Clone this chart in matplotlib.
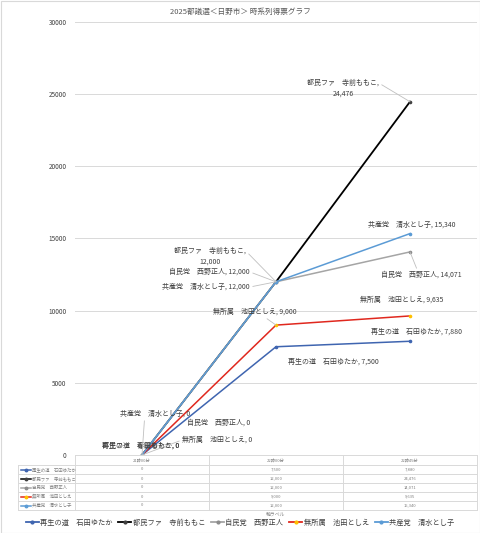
import numpy as np
import matplotlib
import matplotlib.pyplot as plt
from matplotlib.lines import Line2D
from matplotlib.patches import Rectangle

plt.rcParams['font.family'] = ['Noto Sans CJK JP', 'DejaVu Sans']

categories = ['21時00分', '22時00分', '22時45分']
names = ['再生の道　石田ゆたか', '都民ファ　寺前ももこ', '自民党　西野正人', '無所属　池田としえ', '共産党　清水とし子']
votes_saisei = [0, 7500, 7880]
votes_tomin = [0, 12000, 24476]
votes_jimin = [0, 12000, 14071]
votes_mushozoku = [0, 9000, 9635]
votes_kyosan = [0, 12000, 15340]
series = [votes_saisei, votes_tomin, votes_jimin, votes_mushozoku, votes_kyosan]

colors = ['#3F65B0', '#000000', '#A5A5A5', '#E0281E', '#5B9BD5']
marker_colors = ['#3F65B0', '#404040', '#8C8C8C', '#FFC000', '#5B9BD5']

W, H = 480, 533
fig = plt.figure(figsize=(W / 100, H / 100), dpi=100)

# plot area in pixels
L, R, T, B = 75, 477, 22, 455
ax = fig.add_axes([L / W, 1 - B / H, (R - L) / W, (B - T) / H])
ax.set_xlim(-0.5, 2.5)
ax.set_ylim(0, 30000)

def px2data(px, py):
    return (px - L) / (R - L) * 3 - 0.5, (B - py) / (B - T) * 30000

x = np.arange(len(categories))
for vals, c, mc, nm in zip(series, colors, marker_colors, names):
    ax.plot(x, vals, color=c, lw=1.1 if c != '#000000' else 1.3, marker='o', ms=1.6,
            markerfacecolor=mc, markeredgecolor=mc, label=nm, zorder=3)

ax.set_yticks(np.arange(0, 30001, 5000))
ax.set_yticklabels([str(v) for v in range(0, 30001, 5000)], fontsize=4.6, color='#404040')
ax.set_xticks([])
ax.tick_params(axis='y', length=0, pad=6)
ax.grid(axis='y', color='#D9D9D9', lw=0.7)
ax.set_axisbelow(True)
for s in ['top', 'right', 'left', 'bottom']:
    ax.spines[s].set_visible(False)

# data labels: (series index, point index, text, px, py, ha, leader relpos or None)
label_specs = [
    (0, 0, '再生の道　石田ゆたか, 0', 102, 446, 'left', None),
    (1, 0, '都民ファ　寺前ももこ, 0', 102, 446, 'left', None),
    (2, 0, '自民党　西野正人, 0', 187, 423, 'left', None),
    (3, 0, '無所属　池田としえ, 0', 182, 440, 'left', (0, 0.5)),
    (4, 0, '共産党　清水とし子, 0', 120, 414, 'left', (0.35, 0)),
    (0, 1, '再生の道　石田ゆたか, 7,500', 288, 362, 'left', None),
    (1, 1, '都民ファ　寺前ももこ,\n12,000', 210, 256, 'center', (1, 0.75)),
    (2, 1, '自民党　西野正人, 12,000', 250, 272, 'right', (1, 0.5)),
    (3, 1, '無所属　池田としえ, 9,000', 213, 312, 'left', (0.6, 0)),
    (4, 1, '共産党　清水とし子, 12,000', 250, 287, 'right', (1, 0.5)),
    (0, 2, '再生の道　石田ゆたか, 7,880', 462, 332, 'right', None),
    (1, 2, '都民ファ　寺前ももこ,\n24,476', 343, 88, 'center', (1, 0.75)),
    (2, 2, '自民党　西野正人, 14,071', 462, 275, 'right', (0.45, 1)),
    (3, 2, '無所属　池田としえ, 9,635', 443, 300, 'right', None),
    (4, 2, '共産党　清水とし子, 15,340', 455, 225, 'right', None),
]
for si, pi, txt, px, py, ha, rel in label_specs:
    tx, ty = px2data(px, py)
    kw = {}
    if rel is not None:
        kw['arrowprops'] = dict(arrowstyle='-', color='#BFBFBF', lw=0.6,
                                shrinkA=0, shrinkB=0, relpos=rel)
    ax.annotate(txt, xy=(x[pi], series[si][pi]), xytext=(tx, ty), textcoords='data',
                ha=ha, va='center', fontsize=5, color='#404040', linespacing=1.6,
                zorder=4, **kw)

fig.text(0.5, 1 - 12 / H, '2025都議選＜日野市＞ 時系列得票グラフ', ha='center', va='center',
         fontsize=5.5, color='#595959')

# data table under the chart, drawn in pixel space
tb = fig.add_axes([0, 0, 1, 1])
tb.set_xlim(0, W)
tb.set_ylim(H, 0)
tb.axis('off')
tb.patch.set_alpha(0)
gc = '#D9D9D9'
col_edges = [L, L + (R - L) / 3, L + 2 * (R - L) / 3, R]
row_top, row_h, lab_left = 465, 9, 18
row_bottom = row_top + row_h * len(names)
tb.plot([L, R], [B, B], color=gc, lw=0.7)
for k in range(len(names) + 1):
    yy = row_top + k * row_h
    tb.plot([lab_left, R], [yy, yy], color=gc, lw=0.7)
for xe in col_edges:
    tb.plot([xe, xe], [B, row_bottom], color=gc, lw=0.7)
tb.plot([lab_left, lab_left], [row_top, row_bottom], color=gc, lw=0.7)
for j, cat in enumerate(categories):
    tb.text((col_edges[j] + col_edges[j + 1]) / 2, (B + row_top) / 2, cat,
            ha='center', va='center', fontsize=3, color='#808080')
for i, (nm, vals) in enumerate(zip(names, series)):
    yc = row_top + (i + 0.5) * row_h
    tb.plot([lab_left + 3, lab_left + 13], [yc, yc], color=colors[i], lw=1.1)
    tb.plot([lab_left + 8], [yc], marker='o', ms=1.8, color=marker_colors[i])
    tb.text(lab_left + 14, yc, nm, ha='left', va='center', fontsize=3.2, color='#808080')
    for j, v in enumerate(vals):
        tb.text((col_edges[j] + col_edges[j + 1]) / 2, yc, f'{v:,}',
                ha='center', va='center', fontsize=3, color='#808080')
tb.text((L + R) / 2, 514, '軸ラベル', ha='center', va='center', fontsize=3.5, color='#808080')
tb.add_patch(Rectangle((0.5, 0.5), W - 1, H - 1, fill=False, ec='#D9D9D9', lw=0.8))

handles = [Line2D([0], [0], color=c, lw=1.3, marker='o', ms=2, markerfacecolor=mc,
                  markeredgecolor=mc) for c, mc in zip(colors, marker_colors)]
fig.legend(handles, names, loc='center', bbox_to_anchor=(0.5, 1 - 523 / H), ncol=5,
           frameon=False, fontsize=5.2, handlelength=1.8, handletextpad=0.2,
           columnspacing=0.8, labelcolor='#404040')

fig.savefig('out.png', dpi=100)
